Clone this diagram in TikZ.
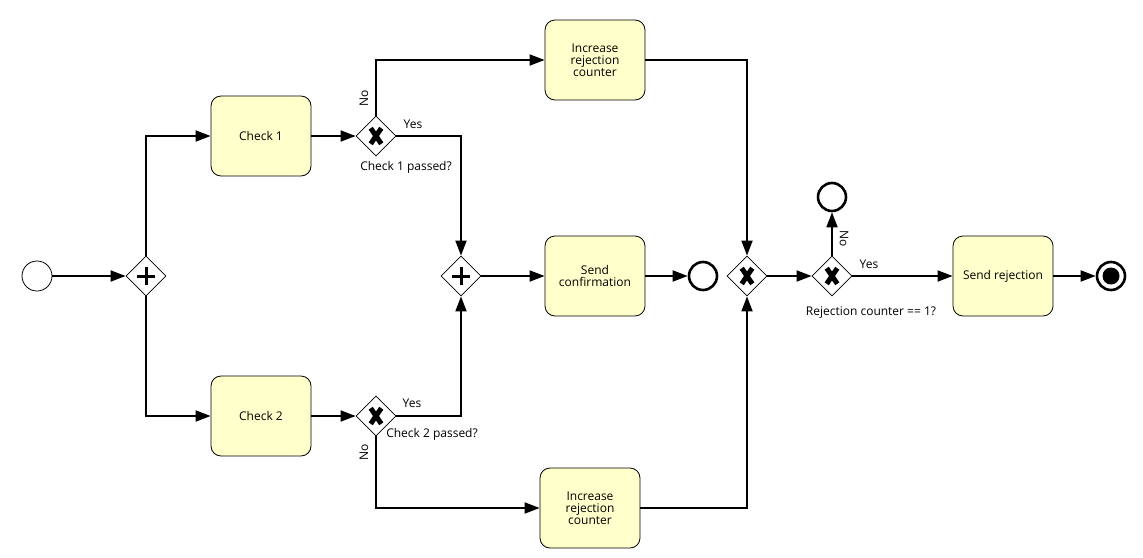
\documentclass[tikz,border=0pt]{standalone}
\usepackage{fontspec}
\setmainfont{Open Sans}
\usetikzlibrary{shapes.geometric,arrows.meta}
\definecolor{taskfill}{HTML}{FFFFCC}
\tikzset{
  task/.style={draw=black, line width=0.8pt, fill=taskfill, rounded corners=10pt,
    minimum width=100pt, minimum height=80pt, align=center, inner sep=2pt,
    font=\fontsize{12}{12}\selectfont},
  gwbase/.style={draw=black, line width=0.8pt, fill=white, diamond, minimum width=40pt,
    minimum height=40pt, inner sep=0pt},
  xorgw/.style={gwbase, path picture={
     \draw[line width=5pt] ([shift={(-5.3,-7.8)}]path picture bounding box.center) -- ([shift={(5.3,7.8)}]path picture bounding box.center);
     \draw[line width=5pt] ([shift={(-5.3,7.8)}]path picture bounding box.center) -- ([shift={(5.3,-7.8)}]path picture bounding box.center);}},
  andgw/.style={gwbase, path picture={\draw[line width=3pt] ([xshift=-9pt]path picture bounding box.center) -- ([xshift=9pt]path picture bounding box.center);
     \draw[line width=3pt] ([yshift=-9pt]path picture bounding box.center) -- ([yshift=9pt]path picture bounding box.center);}},
  startev/.style={circle, draw=black, line width=0.8pt, fill=white, minimum size=30pt, inner sep=0pt},
  endev/.style={circle, draw=black, line width=2.6pt, fill=white, minimum size=28pt, inner sep=0pt},
  termev/.style={endev, path picture={\fill[black] (path picture bounding box.center) circle (8.5pt);}},
  flow/.style={draw=black, line width=1.8pt, -{Triangle[length=15pt,width=11pt]}},
  lbl/.style={font=\fontsize{12}{13.5}\selectfont, inner sep=0pt},
}
\begin{document}
\begin{tikzpicture}[x=1pt,y=-1pt]
\useasboundingbox (0,0) rectangle (1143,557);
% nodes
\node[startev] (start) at (37,276) {};
\node[andgw] (fork) at (146,276) {};
\node[task] (c1) at (261,136) {Check 1};
\node[task] (c2) at (261,416) {Check 2};
\node[xorgw] (x1) at (376,136) {};
\node[xorgw] (x2) at (376,416) {};
\node[task] (inc1) at (595,60) {Increase\\rejection\\counter};
\node[task] (inc2) at (590,508) {Increase\\rejection\\counter};
\node[andgw] (join) at (461,276) {};
\node[task] (conf) at (595,276) {Send\\confirmation};
\node[endev] (end1) at (703,276) {};
\node[xorgw] (merge) at (747,276) {};
\node[xorgw] (dec) at (832,276) {};
\node[endev] (end2) at (832,197) {};
\node[task] (rej) at (1003,276) {Send rejection};
\node[termev] (end3) at (1111,276) {};
% flows
\draw[flow] (start) -- (fork);
\draw[flow] (fork.north) |- (c1.west);
\draw[flow] (fork.south) |- (c2.west);
\draw[flow] (c1) -- (x1);
\draw[flow] (c2) -- (x2);
\draw[flow] (x1.north) |- (inc1.west);
\draw[flow] (x1.east) -| (join.north);
\draw[flow] (x2.east) -| (join.south);
\draw[flow] (x2.south) |- (inc2.west);
\draw[flow] (join) -- (conf);
\draw[flow] (conf) -- (end1);
\draw[flow] (inc1.east) -| (merge.north);
\draw[flow] (inc2.east) -| (merge.south);
\draw[flow] (merge) -- (dec);
\draw[flow] (dec.north) -- (end2);
\draw[flow] (dec) -- (rej);
\draw[flow] (rej) -- (end3);
% labels
\node[lbl, rotate=90] (l1) at (364,98) {No};
\node[lbl] (l2) at (413,124) {Yes};
\node[lbl] (l3) at (406,167) {Check 1 passed?};
\node[lbl] (l4) at (412,403) {Yes};
\node[lbl] (l5) at (432,434) {Check 2 passed?};
\node[lbl, rotate=90] (l6) at (364,452) {No};
\node[lbl, rotate=-90] (l7) at (844,239) {No};
\node[lbl] (l8) at (869,264) {Yes};
\node[lbl] (l9) at (871,313) {Rejection counter == 1?};
\end{tikzpicture}
\end{document}
